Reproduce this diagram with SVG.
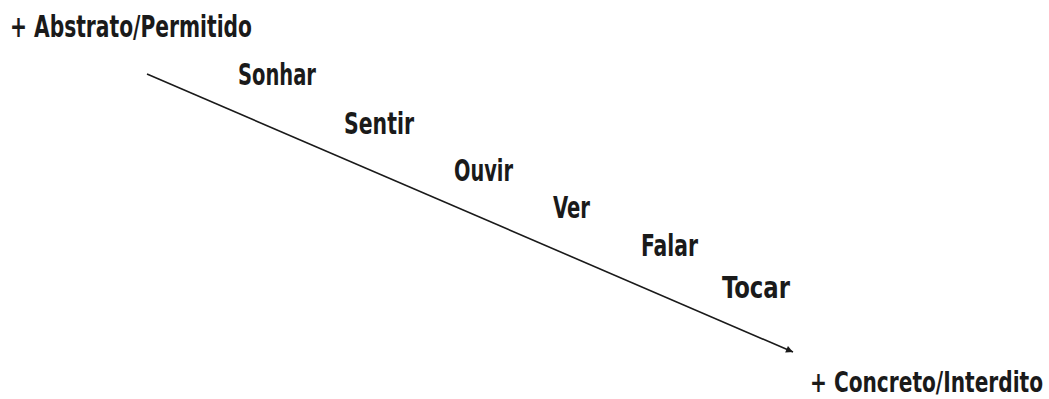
<svg xmlns="http://www.w3.org/2000/svg" width="1049" height="399" viewBox="0 0 1049 399">
<style>
text{font-family:"Liberation Sans Narrow","DejaVu Sans Condensed","Liberation Sans",sans-serif;font-size:30px;font-weight:bold;fill:#1a1a1a}
.conn{stroke:#1a1a1a;stroke-width:1.6;fill:none}
</style>
<defs>
<marker id="ah" viewBox="0 0 10 10" refX="10" refY="5" markerWidth="8" markerHeight="7" markerUnits="userSpaceOnUse" orient="auto">
<path d="M0,0 L10,5 L0,10 z" fill="#1a1a1a"/>
</marker>
</defs>
<rect width="1049" height="399" fill="#fff"/>
<g id="connectors">
<line class="conn" x1="147" y1="74" x2="793" y2="352" marker-end="url(#ah)"/>
</g>
<g id="abstrato"><text x="10" y="37" textLength="242" lengthAdjust="spacingAndGlyphs">+ Abstrato/Permitido</text></g>
<g id="sonhar"><text x="238" y="85" textLength="78" lengthAdjust="spacingAndGlyphs">Sonhar</text></g>
<g id="sentir"><text x="344" y="134" textLength="70" lengthAdjust="spacingAndGlyphs">Sentir</text></g>
<g id="ouvir"><text x="454" y="181" textLength="59" lengthAdjust="spacingAndGlyphs">Ouvir</text></g>
<g id="ver"><text x="553" y="218" textLength="37" lengthAdjust="spacingAndGlyphs">Ver</text></g>
<g id="falar"><text x="641" y="256" textLength="57" lengthAdjust="spacingAndGlyphs">Falar</text></g>
<g id="tocar"><text x="722" y="298" textLength="68" lengthAdjust="spacingAndGlyphs">Tocar</text></g>
<g id="concreto"><text transform="translate(810,392) scale(0.8,1)" x="0" y="0" style="font-size:28px">+ Concreto/Interdito</text></g>
</svg>
